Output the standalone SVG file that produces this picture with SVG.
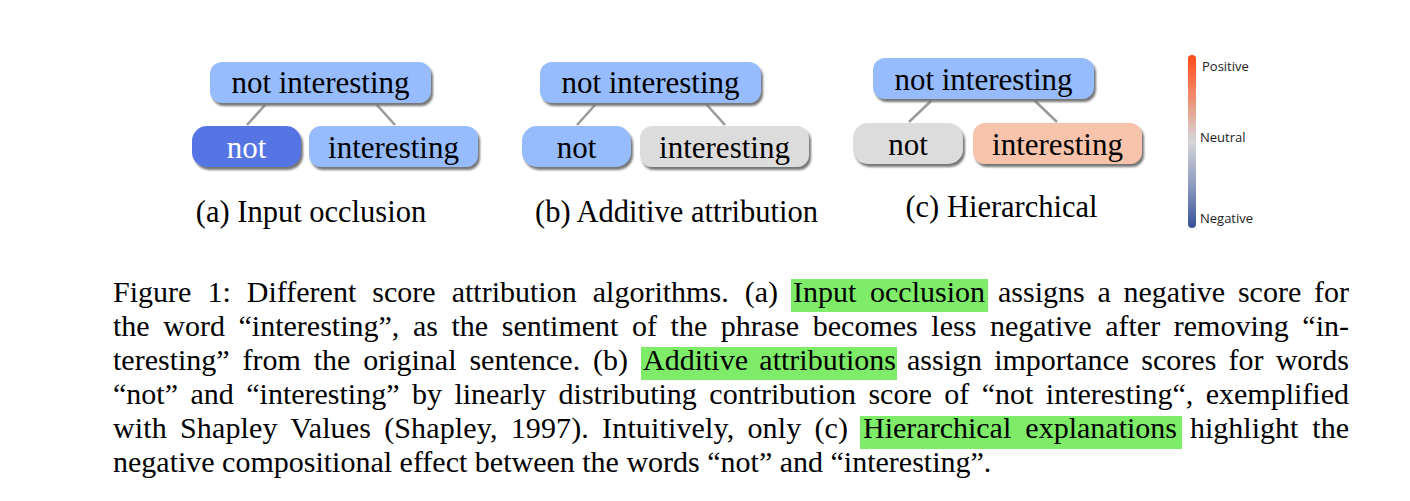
<svg xmlns="http://www.w3.org/2000/svg" width="1410" height="501" viewBox="0 0 1410 501">
<defs>
<style>
.node rect{stroke:none;filter:url(#sh)}
.lbl{font-family:"Liberation Serif","Times New Roman",serif;font-size:31px;text-anchor:middle;fill:#000}
.cap{font-family:"Liberation Serif","Times New Roman",serif;font-size:30.5px;text-anchor:middle;fill:#000}
.para{font-family:"Liberation Serif","Times New Roman",serif;font-size:30px;fill:#000}
.edge{stroke:#9a9a9a;stroke-width:2.6;fill:none}
.blue{fill:#96BCFD}
.dark{fill:#5474E5}
.gray{fill:#DCDCDC}
.salmon{fill:#F8C3AB}
.hl{fill:#7EEC68}
.bar{font-family:"Open Sans","Noto Sans",sans-serif;font-size:13px;fill:#222}
</style>
<filter id="sh" x="-10%" y="-20%" width="125%" height="150%">
<feDropShadow dx="2" dy="3" stdDeviation="1" flood-color="#666" flood-opacity="0.9"/>
</filter>
<linearGradient id="grad" x1="0" y1="0" x2="0" y2="1">
<stop offset="0" stop-color="#FF4A14"/>
<stop offset="0.25" stop-color="#EE8E70"/>
<stop offset="0.5" stop-color="#D6D6DA"/>
<stop offset="0.75" stop-color="#8E9CC0"/>
<stop offset="1" stop-color="#34509A"/>
</linearGradient>
</defs>
<rect width="1410" height="501" fill="#fff"/>

<g id="connectors">
<line class="edge" x1="265" y1="105" x2="247" y2="125"/>
<line class="edge" x1="377" y1="105" x2="395" y2="125"/>
<line class="edge" x1="595" y1="105" x2="577" y2="125"/>
<line class="edge" x1="707" y1="105" x2="725" y2="125"/>
<line class="edge" x1="931" y1="101" x2="909" y2="122"/>
<line class="edge" x1="1035" y1="101" x2="1057" y2="122"/>
</g>

<g id="a-root" class="node"><rect class="blue" x="210" y="62" width="221" height="41" rx="12"/><text class="lbl" x="320.5" y="93">not interesting</text></g>
<g id="a-not" class="node"><rect class="dark" x="192" y="126" width="109" height="41" rx="15"/><text class="lbl" x="246.5" y="158" style="fill:#fff">not</text></g>
<g id="a-interesting" class="node"><rect class="blue" x="309" y="126" width="169" height="41" rx="12"/><text class="lbl" x="393.5" y="158">interesting</text></g>
<text class="cap" x="311" y="222">(a) Input occlusion</text>

<g id="b-root" class="node"><rect class="blue" x="540" y="62" width="221" height="41" rx="12"/><text class="lbl" x="650.5" y="93">not interesting</text></g>
<g id="b-not" class="node"><rect class="blue" x="522" y="126" width="109" height="41" rx="15"/><text class="lbl" x="576.5" y="158">not</text></g>
<g id="b-interesting" class="node"><rect class="gray" x="640" y="126" width="169" height="41" rx="12"/><text class="lbl" x="724.5" y="158">interesting</text></g>
<text class="cap" x="676.5" y="222">(b) Additive attribution</text>

<g id="c-root" class="node"><rect class="blue" x="873" y="58" width="221" height="41" rx="12"/><text class="lbl" x="983.5" y="90">not interesting</text></g>
<g id="c-not" class="node"><rect class="gray" x="853" y="123" width="110" height="41" rx="15"/><text class="lbl" x="908" y="155">not</text></g>
<g id="c-interesting" class="node"><rect class="salmon" x="973" y="123" width="169" height="41" rx="12"/><text class="lbl" x="1057.5" y="155">interesting</text></g>
<text class="cap" x="1001.5" y="217">(c) Hierarchical</text>

<g id="colorbar">
<rect x="1188" y="55" width="8" height="173" rx="4" fill="url(#grad)"/>
<text class="bar" x="1202" y="71">Positive</text>
<text class="bar" x="1200" y="142">Neutral</text>
<text class="bar" x="1200" y="223">Negative</text>
</g>

<g id="caption">
<rect class="hl" x="791" y="279" width="197" height="33"/>
<rect class="hl" x="641" y="347" width="256" height="33"/>
<rect class="hl" x="860" y="416" width="322" height="33"/>
<text class="para" x="113" y="302" word-spacing="8.5" textLength="665" lengthAdjust="spacing">Figure 1: Different score attribution algorithms. (a)</text>
<text class="para" x="793" y="302" word-spacing="6.2" textLength="192" lengthAdjust="spacing">Input occlusion</text>
<text class="para" x="998" y="302" word-spacing="5.3" textLength="351" lengthAdjust="spacing">assigns a negative score for</text>
<text class="para" x="113" y="336" word-spacing="6.1" textLength="1236" lengthAdjust="spacing">the word “interesting”, as the sentiment of the phrase becomes less negative after removing “in-</text>
<text class="para" x="113" y="370" word-spacing="5.4" textLength="515" lengthAdjust="spacing">teresting” from the original sentence. (b)</text>
<text class="para" x="643" y="370" word-spacing="3.8" textLength="253" lengthAdjust="spacing">Additive attributions</text>
<text class="para" x="907" y="370" word-spacing="4.7" textLength="442" lengthAdjust="spacing">assign importance scores for words</text>
<text class="para" x="113" y="404" word-spacing="5" textLength="1236" lengthAdjust="spacing">“not” and “interesting” by linearly distributing contribution score of “not interesting“, exemplified</text>
<text class="para" x="113" y="438" word-spacing="5.5" textLength="735" lengthAdjust="spacing">with Shapley Values (Shapley, 1997). Intuitively, only (c)</text>
<text class="para" x="863" y="438" word-spacing="6.6" textLength="314" lengthAdjust="spacing">Hierarchical explanations</text>
<text class="para" x="1190" y="438" word-spacing="6.5" textLength="159" lengthAdjust="spacing">highlight the</text>
<text class="para" x="113" y="472">negative compositional effect between the words “not” and “interesting”.</text>
</g>
</svg>
